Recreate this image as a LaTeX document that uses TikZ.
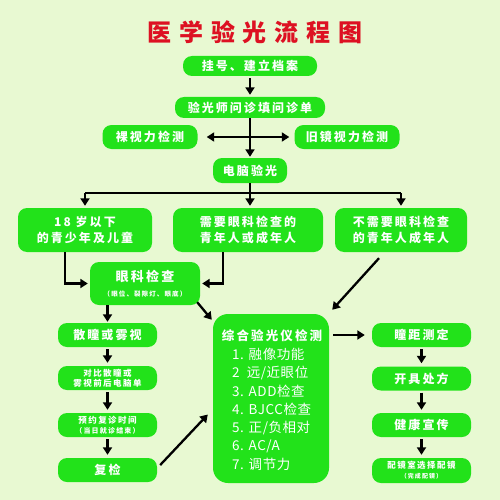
\documentclass[tikz,border=0pt]{standalone}
\usepackage{fontspec}
\usetikzlibrary{arrows.meta}
\newfontfamily\cjk[LetterSpace=17]{Noto Sans CJK SC}
\newfontfamily\cjkt[LetterSpace=32]{Noto Sans CJK SC}
\newfontfamily\cjkn[LetterSpace=4]{Noto Sans CJK SC}
\definecolor{bg}{HTML}{E8F9D2}
\definecolor{boxg}{HTML}{22E21A}
\definecolor{titlered}{HTML}{DD1122}
\tikzset{
  box/.style={fill=boxg, rounded corners=9pt, text=white, align=center, inner sep=0pt,
    font=\cjk\bfseries\fontsize{12}{16.5}\selectfont},
  smallbox/.style={box, font=\cjk\bfseries\fontsize{8.5}{12}\selectfont},
  bigbox/.style={fill=boxg, rounded corners=15pt, inner sep=0pt},
  item/.style={anchor=west, text=white, inner sep=0pt, font=\cjkn\fontsize{13.5}{15}\selectfont},
  arr/.style={line width=2.3pt, -{Triangle[width=9pt,length=7.5pt]}},
  arrb/.style={line width=2.3pt, {Triangle[width=9pt,length=7.5pt]}-{Triangle[width=9pt,length=7.5pt]}},
  plain/.style={line width=2.3pt}
}
\begin{document}
\begin{tikzpicture}[x=1pt,y=1pt]
\fill[bg] (0,0) rectangle (500,-500);
\useasboundingbox (0,0) rectangle (500,-500);

\node[text=titlered, font=\cjkt\bfseries\fontsize{24}{28}\selectfont, inner sep=0pt] (title) at (255,-32) {医学验光流程图};

\node[box, minimum width=134pt, minimum height=20pt] (reg) at (250,-66) {挂号、建立档案};
\node[box, minimum width=150pt, minimum height=21pt] (ask) at (250,-107.5) {验光师问诊填问诊单};
\node[box, minimum width=95pt, minimum height=24pt] (luo) at (150,-137) {裸视力检测};
\node[box, minimum width=105pt, minimum height=24pt] (jiu) at (347,-137) {旧镜视力检测};
\node[box, minimum width=74pt, minimum height=25pt] (dn) at (250,-170.5) {电脑验光};

\node[box, minimum width=134pt, minimum height=44pt] (A) at (85,-230) {18 岁以下\\的青少年及儿童};
\node[box, minimum width=150pt, minimum height=44pt] (B) at (248,-230) {需要眼科检查的\\青年人或成年人};
\node[box, minimum width=132pt, minimum height=44pt] (C) at (401,-230) {不需要眼科检查\\的青年人成年人};

\node[box, minimum width=110pt, minimum height=43pt] (eye) at (145,-283.5) {\fontsize{13}{16}\selectfont 眼科检查\\[-2pt]{\fontsize{6.5}{8}\selectfont （眼位、裂隙灯、眼底）}};

\node[box, minimum width=99pt, minimum height=24pt] (san) at (107.5,-335) {散瞳或雾视};
\node[smallbox, minimum width=99pt, minimum height=24pt] (cmp) at (107.5,-378) {对比散瞳或\\[-2pt]雾视前后电脑单};
\node[smallbox, minimum width=99pt, minimum height=24pt] (yy) at (107.5,-425) {预约复诊时间\\[-2pt]{\fontsize{7}{9}\selectfont （当日就诊结束）}};
\node[box, minimum width=99pt, minimum height=24pt] (fu) at (107.5,-470) {复检};

\node[bigbox, minimum width=116pt, minimum height=169pt] (big) at (271,-398.5) {};
\node[text=white, inner sep=0pt, font=\cjk\bfseries\fontsize{12.5}{14}\selectfont] (bigt) at (272,-336) {综合验光仪检测};
\node[item] (it1) at (232,-354) {1. 融像功能};
\node[item] (it2) at (232,-372.5) {2\ \ 远/近眼位};
\node[item] (it3) at (232,-391) {3. ADD检查};
\node[item] (it4) at (232,-409.5) {4. BJCC检查};
\node[item] (it5) at (232,-428) {5. 正/负相对};
\node[item] (it6) at (232,-446) {6. AC/A};
\node[item] (it7) at (232,-464) {7. 调节力};

\node[box, minimum width=99pt, minimum height=24pt] (tj) at (421.5,-335) {瞳距测定};
\node[box, minimum width=99pt, minimum height=24pt] (kj) at (421.5,-378.5) {开具处方};
\node[box, minimum width=99pt, minimum height=24pt] (jk) at (421.5,-425) {健康宣传};
\node[smallbox, minimum width=99pt, minimum height=25pt] (pj) at (421.5,-470.5) {配镜室选择配镜\\[-2pt]{\fontsize{6}{8}\selectfont （完成配镜）}};

% connectors
\draw[arr, shorten <=2pt, shorten >=2pt] (reg) -- (ask);
\draw[arr, shorten >=1pt] (ask) -- (dn);
\draw[arrb, shorten <=9pt, shorten >=5pt] (luo) -- (jiu);
\coordinate (bar) at (250,-193);
\draw[plain] (A.north |- bar) -- (C.north |- bar);
\draw[arr, shorten >=2pt] (A.north |- bar) -- (A.north);
\draw[arr, shorten >=2pt] (dn.south) -- (dn.south |- B.north);
\draw[arr, shorten >=2pt] (C.north |- bar) -- (C.north);

\draw[arr, shorten >=2pt] ([xshift=-20pt]A.south) |- (eye.west);
\draw[arr, shorten >=2pt] ([xshift=-25pt]B.south) |- (eye.east);
\draw[arr, shorten >=1pt] (eye.south -| san.north) -- (san.north);
\draw[arr] ([xshift=-3pt,yshift=3pt]eye.south east) -- ([xshift=-1pt,yshift=-6pt]big.north west);
\draw[arr] ([xshift=-22pt,yshift=-6pt]C.south) -- ([xshift=3pt,yshift=4pt]big.north east);

\draw[arr, shorten <=2pt, shorten >=3pt] (san) -- (cmp);
\draw[arr, shorten <=2pt, shorten >=3pt] (cmp) -- (yy);
\draw[arr, shorten <=2pt, shorten >=3pt] (yy) -- (fu);
\draw[arr] ([xshift=3pt,yshift=5pt]fu.east) -- ([xshift=-5pt,yshift=-16pt]big.west);

\draw[arr, shorten <=4pt, shorten >=7pt] (big.east |- tj.west) -- (tj.west);
\draw[arr, shorten <=2pt, shorten >=3pt] (tj) -- (kj);
\draw[arr, shorten <=2pt, shorten >=3pt] (kj) -- (jk);
\draw[arr, shorten <=2pt, shorten >=3pt] (jk) -- (pj);
\end{tikzpicture}
\end{document}
